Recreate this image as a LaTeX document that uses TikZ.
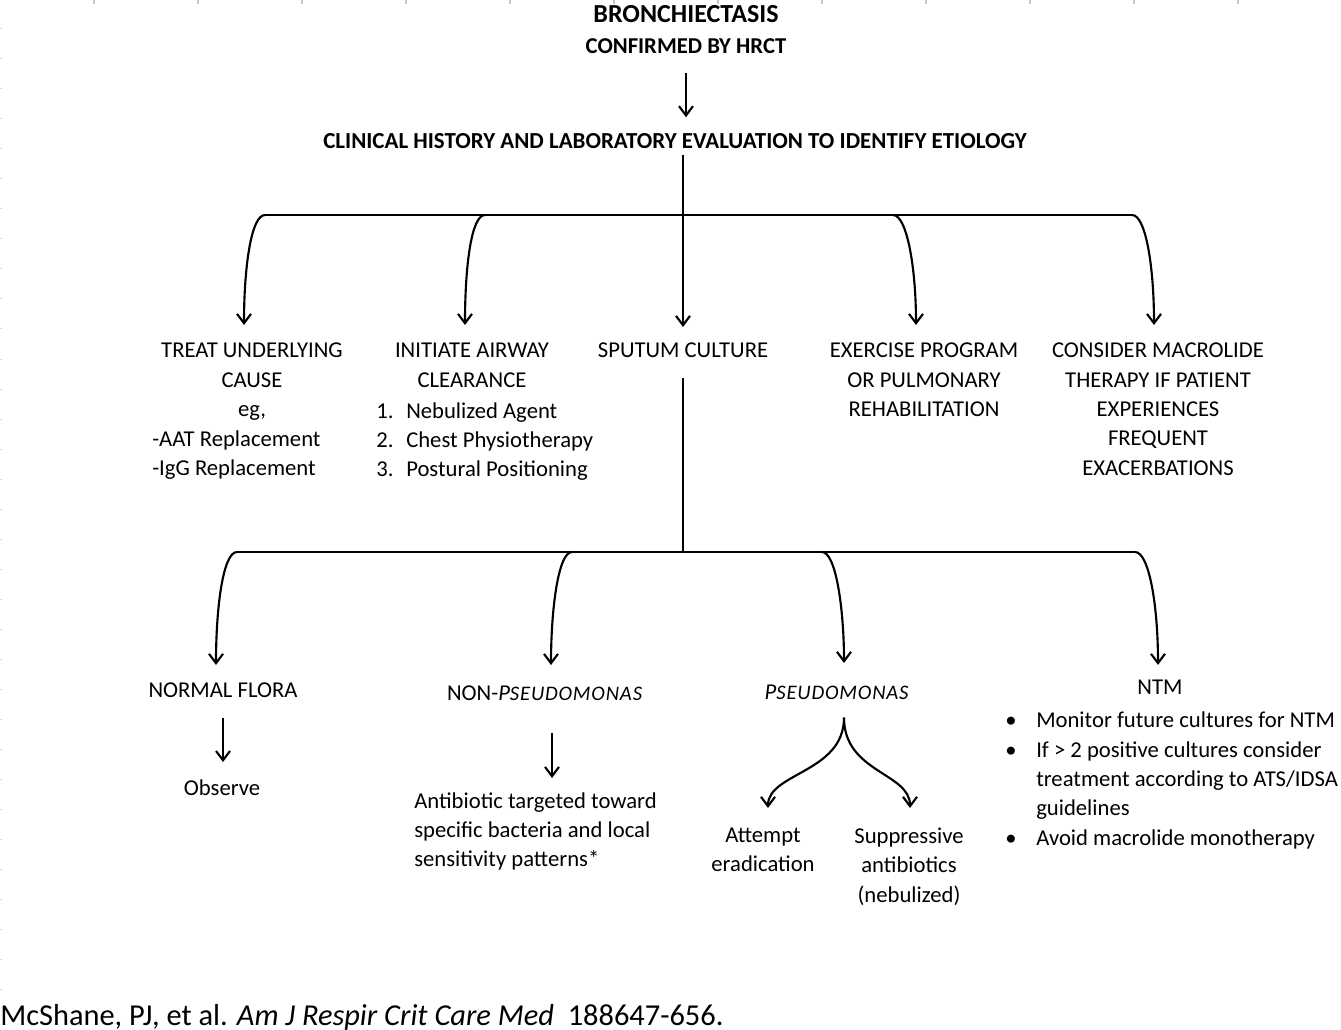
\documentclass[tikz,border=0pt]{standalone}
\usepackage{fontspec}
\setmainfont{Carlito}
\usetikzlibrary{arrows.meta,calc}

\newcommand{\pseudo}{\textit{P{\fontsize{15.5}{22}\selectfont\addfontfeature{LetterSpace=4}SEUDOMONAS}}}

\begin{document}
\begin{tikzpicture}[x=0.75pt,y=-0.75pt,
    every node/.style={inner sep=0pt, font=\fontsize{17}{22}\selectfont},
    arr/.style={line width=1.6pt, -{Straight Barb[length=7pt,width=10.5pt,line width=1.6pt]}},
    bar/.style={line width=1.7pt},
    rulemark/.style={draw=gray!45, line width=1.1pt}]

        % Define the page and the bar heights
        \def\pagew{1341}
        \def\pageh{1030}
        \def\topbar{215}
        \def\lowbar{552}
        \fill[white] (0,0) rectangle (\pagew,\pageh);
        \useasboundingbox (0,0) rectangle (\pagew,\pageh);

        % Draw the ruler marks along the top and left edges
        \foreach \x in {94,198,...,1238} {
            \draw[rulemark] (\x,0) -- (\x,4);
        }
        \foreach \y in {29,59,...,989} {
            \draw[rulemark, draw=gray!30, line width=0.75pt] (0,\y) -- (2,\y);
        }

        % Add the title and the etiology step
        \node[anchor=north, font=\bfseries\fontsize{19.5}{22}\selectfont] (title) at (686,5) {BRONCHIECTASIS};
        \node[anchor=north, font=\bfseries\fontsize{17}{22}\selectfont] (hrct) at (686,38) {CONFIRMED BY HRCT};
        \node[anchor=north, font=\bfseries\fontsize{17.2}{22}\selectfont] (clinical) at (675,133) {CLINICAL HISTORY AND LABORATORY EVALUATION TO IDENTIFY ETIOLOGY};

        % Add the first row of steps
        \node[anchor=north, align=center] (treat) at (252,343) {TREAT UNDERLYING\\CAUSE\\eg,};
        \node[anchor=north west, align=left] (treatx) at (152,430) {-AAT Replacement\\-IgG Replacement};
        \node[anchor=north, align=center] (airway) at (472,343) {INITIATE AIRWAY\\CLEARANCE};
        \node[anchor=north west, align=left] (airwayx) at (376,402) {\makebox[22.5pt][l]{1.}Nebulized Agent\\\makebox[22.5pt][l]{2.}Chest Physiotherapy\\\makebox[22.5pt][l]{3.}Postural Positioning};
        \node[anchor=north] (sputum) at (683,343) {SPUTUM CULTURE};
        \node[anchor=north, align=center] (exercise) at (924,343) {EXERCISE PROGRAM\\OR PULMONARY\\REHABILITATION};
        \node[anchor=north, align=center] (macrolide) at (1158,343) {CONSIDER MACROLIDE\\THERAPY IF PATIENT\\EXPERIENCES\\FREQUENT\\EXACERBATIONS};

        % Add the culture results
        \node[anchor=north] (normal) at (223,682.7) {NORMAL FLORA};
        \node[anchor=north] (nonpseudo) at (545,685.7) {NON-\pseudo};
        \node[anchor=north] (pseudo) at (837,684.7) {\pseudo};
        \node[anchor=north] (ntm) at (1160,680) {NTM};

        % Add what to do for each result
        \node[anchor=north] (observe) at (222,779) {Observe};
        \node[anchor=north west, align=left] (antibiotic) at (414,792) {Antibiotic targeted toward\\specific bacteria and local\\sensitivity patterns*};
        \node[anchor=north, align=center] (attempt) at (763,827.7) {Attempt\\eradication};
        \node[anchor=north, align=center] (suppress) at (909,827.7) {Suppressive\\antibiotics\\(nebulized)};
        \node[anchor=north west, align=left] (ntmx) at (1005,711.7) {%
            \makebox[23.25pt][l]{\textbullet}Monitor future cultures for NTM\\
            \makebox[23.25pt][l]{\textbullet}If > 2 positive cultures consider\\
            \hspace*{23.25pt}treatment according to ATS/IDSA\\
            \hspace*{23.25pt}guidelines\\
            \makebox[23.25pt][l]{\textbullet}Avoid macrolide monotherapy};

        % Add the reference
        \node[anchor=base west, font=\fontsize{22.8}{27}\selectfont] (cite) at (0,1025) {McShane, PJ, et al. \textit{Am J Respir Crit Care Med}\ \ 188647-656.};

        % Draw the trunk
        \draw[arr, shorten <=14.5pt, shorten >=11.8pt] (hrct.south) -- (hrct.south |- clinical.north);
        \draw[arr, shorten <=5pt, shorten >=12pt] (sputum.north |- clinical.south) -- (sputum.north);
        \draw[bar, shorten <=14.5pt] (sputum.south) -- (sputum.south |- 0,\lowbar);

        % Draw the upper bar and its branches
        \coordinate (j1) at (265,\topbar);
        \coordinate (j2) at (485,\topbar);
        \coordinate (j4) at (893,\topbar);
        \coordinate (j5) at (1132,\topbar);
        \draw[bar] (j1) -- (j5);
        \draw[arr, shorten >=13.5pt] (j1) .. controls +(-14,0) and +(0,-75) .. ($(treat.north)+(-8,0)$);
        \draw[arr, shorten >=13.5pt] (j2) .. controls +(-14,0) and +(0,-75) .. ($(airway.north)+(-7,0)$);
        \draw[arr, shorten >=13.5pt] (j4) .. controls +(14,0) and +(0,-75) .. ($(exercise.north)+(-8,0)$);
        \draw[arr, shorten >=13.5pt] (j5) .. controls +(14,0) and +(0,-75) .. ($(macrolide.north)+(-4,0)$);

        % Draw the lower bar and its branches
        \coordinate (k1) at (237,\lowbar);
        \coordinate (k2) at (572,\lowbar);
        \coordinate (k3) at (822,\lowbar);
        \coordinate (k4) at (1135,\lowbar);
        \draw[bar] (k1) -- (k4);
        \draw[arr, shorten >=13.3pt] (k1) .. controls +(-14,0) and +(0,-75) .. ($(normal.north)+(-7,0)$);
        \draw[arr, shorten >=15.5pt] (k2) .. controls +(-14,0) and +(0,-75) .. ($(nonpseudo.north)+(6,0)$);
        \draw[arr, shorten >=16.3pt] (k3) .. controls +(14,0) and +(0,-75) .. ($(pseudo.north)+(7,0)$);
        \draw[arr, shorten >=11.3pt] (k4) .. controls +(14,0) and +(0,-75) .. ($(ntm.north)+(-2,0)$);

        % Draw the arrows below the results
        \draw[arr, shorten <=15pt, shorten >=12.7pt] (normal.south) -- (normal.south |- observe.north);
        \draw[arr, shorten <=24pt, shorten >=10.5pt] ($(nonpseudo.south)+(7,0)$) -- ($(nonpseudo.south |- antibiotic.north)+(7,0)$);
        \coordinate (fork) at ($(pseudo.south)+(7,17.7)$);
        \draw[arr, shorten >=14.8pt] (fork) .. controls +(0,55) and +(0,-55) .. ($(attempt.north)+(5,0)$);
        \draw[arr, shorten >=14.8pt] (fork) .. controls +(0,55) and +(0,-55) .. ($(suppress.north)+(1,0)$);
    \end{tikzpicture}
\end{document}
